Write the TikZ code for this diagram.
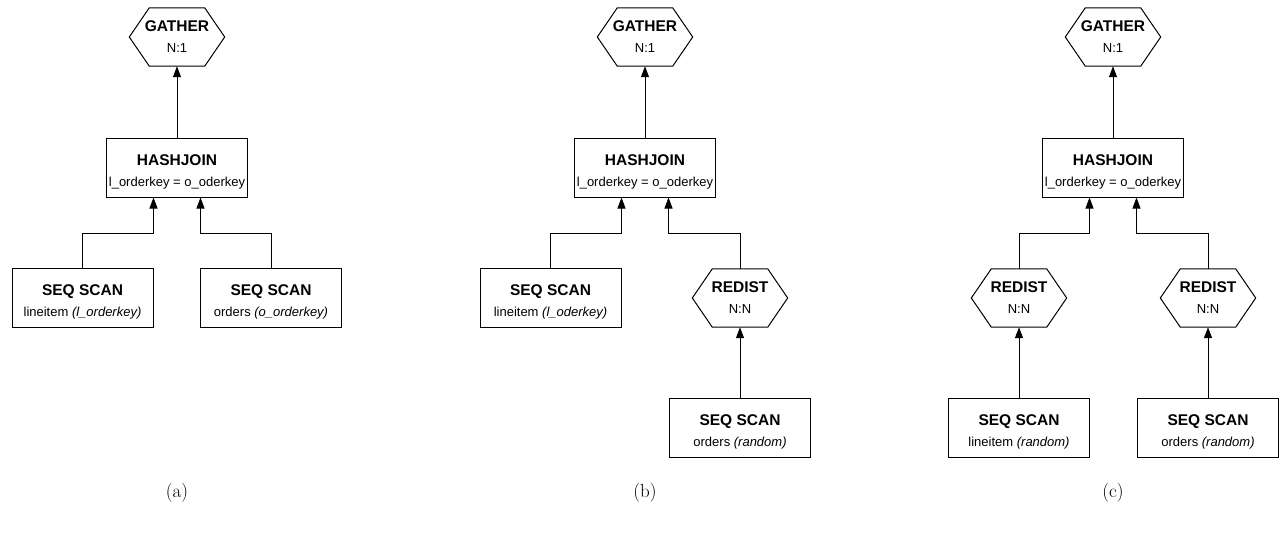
\documentclass[tikz,border=0pt]{standalone}
\usepackage{fontspec}
\newfontfamily\arial{Liberation Sans}
\usetikzlibrary{arrows.meta,calc}
\tikzset{
  line/.style={draw=black, line width=1pt},
  arr/.style={line, -{Triangle[length=11pt,width=8pt]}},
  opbox/.style={line, rectangle, minimum width=141pt, minimum height=59pt, inner sep=0pt, align=center, font=\arial\fontsize{13}{21}\selectfont},
  hexo/.style={rectangle, minimum width=95pt, minimum height=58pt, inner sep=0pt, align=center, font=\arial\fontsize{13}{21}\selectfont},
  captxt/.style={font=\fontsize{19}{22}\selectfont}
}
\newcommand\ttl[1]{{\fontsize{15.5}{21}\selectfont\bfseries #1}}
\newcommand\bttl[1]{{\rule{0pt}{19pt}\fontsize{15.5}{21}\selectfont\bfseries #1}}
\newcommand\lbl[1]{#1}
\newcommand\drawhex[1]{\draw[line] (#1.west) -- ($(#1.north west)+(20,0)$) -- ($(#1.north east)+(-20,0)$) -- (#1.east) -- ($(#1.south east)+(-20,0)$) -- ($(#1.south west)+(20,0)$) -- cycle;}
\begin{document}
\begin{tikzpicture}[x=1pt,y=-1pt]
\useasboundingbox (0,0) rectangle (1282,535);

% ---------- panel (a) ----------
\node[hexo] (ga) at (177,37) {\ttl{GATHER}\\\lbl{N:1}};
\drawhex{ga}
\node[opbox] (ha) at (177,167.5) {\bttl{HASHJOIN}\\\lbl{l\_orderkey = o\_oderkey}};
\node[opbox] (sa1) at (82.5,298) {\bttl{SEQ SCAN}\\\lbl{lineitem \textit{(l\_orderkey)}}};
\node[opbox] (sa2) at (271,298) {\bttl{SEQ SCAN}\\\lbl{orders \textit{(o\_orderkey)}}};
\coordinate (ha-l) at ([xshift=-23.5pt]ha.south);
\coordinate (ha-r) at ([xshift=23.5pt]ha.south);
\draw[arr] (ha) -- (ga);
\draw[arr] (sa1.north) |- ($(ha-l)+(0,36)$) -- (ha-l);
\draw[arr] (sa2.north) |- ($(ha-r)+(0,36)$) -- (ha-r);
\node[captxt] (capa) at (177,493) {(a)};

% ---------- panel (b) ----------
\node[hexo] (gb) at (645,37) {\ttl{GATHER}\\\lbl{N:1}};
\drawhex{gb}
\node[opbox] (hb) at (645,167.5) {\bttl{HASHJOIN}\\\lbl{l\_orderkey = o\_oderkey}};
\node[opbox] (sb1) at (550.5,298) {\bttl{SEQ SCAN}\\\lbl{lineitem \textit{(l\_oderkey)}}};
\node[hexo] (rb) at (740,298) {\ttl{REDIST}\\\lbl{N:N}};
\drawhex{rb}
\node[opbox] (sb2) at (740,427.5) {\bttl{SEQ SCAN}\\\lbl{orders \textit{(random)}}};
\coordinate (hb-l) at ([xshift=-23.5pt]hb.south);
\coordinate (hb-r) at ([xshift=23.5pt]hb.south);
\draw[arr] (hb) -- (gb);
\draw[arr] (sb1.north) |- ($(hb-l)+(0,36)$) -- (hb-l);
\draw[arr] (rb.north) |- ($(hb-r)+(0,36)$) -- (hb-r);
\draw[arr] (sb2) -- (rb);
\node[captxt] (capb) at (645,493) {(b)};

% ---------- panel (c) ----------
\node[hexo] (gc) at (1113,37) {\ttl{GATHER}\\\lbl{N:1}};
\drawhex{gc}
\node[opbox] (hc) at (1113,167.5) {\bttl{HASHJOIN}\\\lbl{l\_orderkey = o\_oderkey}};
\node[hexo] (rc1) at (1019,298) {\ttl{REDIST}\\\lbl{N:N}};
\drawhex{rc1}
\node[hexo] (rc2) at (1208,298) {\ttl{REDIST}\\\lbl{N:N}};
\drawhex{rc2}
\node[opbox] (sc1) at (1019,427.5) {\bttl{SEQ SCAN}\\\lbl{lineitem \textit{(random)}}};
\node[opbox] (sc2) at (1208,427.5) {\bttl{SEQ SCAN}\\\lbl{orders \textit{(random)}}};
\coordinate (hc-l) at ([xshift=-23.5pt]hc.south);
\coordinate (hc-r) at ([xshift=23.5pt]hc.south);
\draw[arr] (hc) -- (gc);
\draw[arr] (rc1.north) |- ($(hc-l)+(0,36)$) -- (hc-l);
\draw[arr] (rc2.north) |- ($(hc-r)+(0,36)$) -- (hc-r);
\draw[arr] (sc1) -- (rc1);
\draw[arr] (sc2) -- (rc2);
\node[captxt] (capc) at (1113,493) {(c)};
\end{tikzpicture}
\end{document}
